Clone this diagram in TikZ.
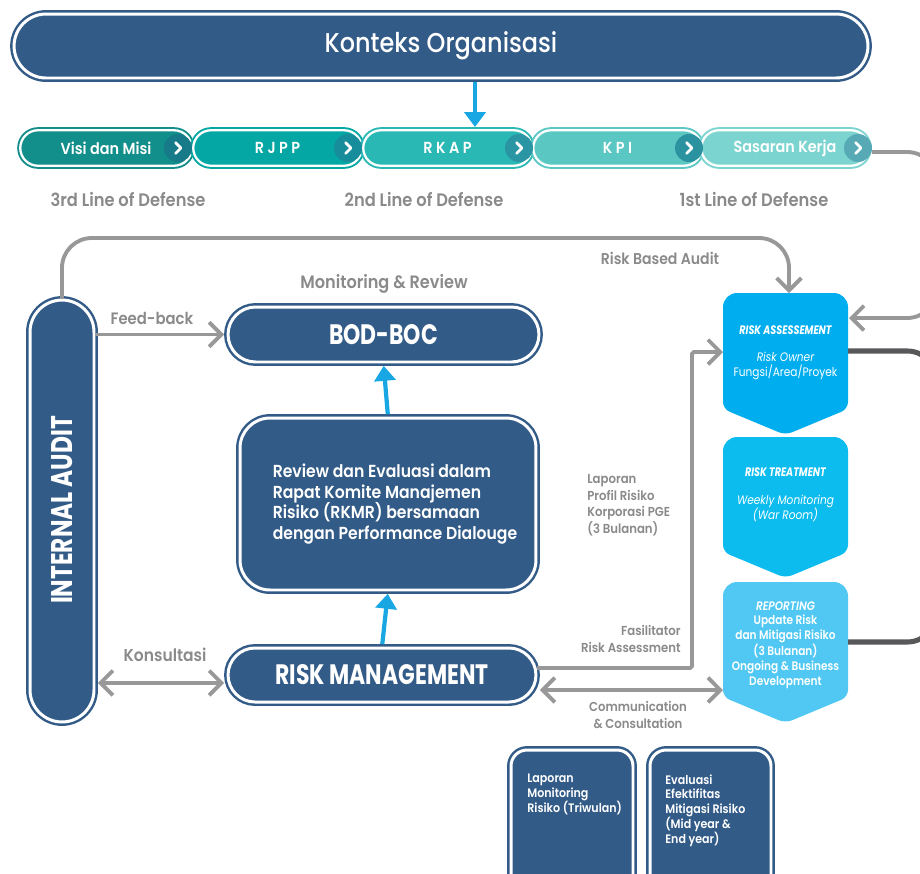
\documentclass[tikz,border=0pt]{standalone}
\usepackage{fontspec}
\setmainfont{Poppins}
\newfontfamily\titlefont{Poppins}[FakeStretch=0.78]
\newfontfamily\narrowfont{Poppins}[FakeStretch=0.86]
\newfontfamily\narrowmed{Poppins Medium}[FakeStretch=0.88]
\newfontfamily\narrowsemi{Poppins SemiBold}[FakeStretch=0.9]
\newfontfamily\repsemi{Poppins SemiBold}[FakeStretch=0.86]
\usetikzlibrary{arrows.meta,calc}
\definecolor{dblue}{HTML}{335B87}
\definecolor{greyline}{HTML}{989898}
\definecolor{greytext}{HTML}{8A8A8A}
\definecolor{darkline}{HTML}{58585A}
\definecolor{barrow}{HTML}{18A7E3}
\definecolor{pA}{HTML}{128E8B}
\definecolor{pB}{HTML}{04A7A3}
\definecolor{pC}{HTML}{2AB8B4}
\definecolor{pD}{HTML}{5AC7C3}
\definecolor{pE}{HTML}{7CD4D0}
\definecolor{cA}{HTML}{177A88}
\definecolor{cB}{HTML}{178C9A}
\definecolor{cC}{HTML}{2A95A3}
\definecolor{cD}{HTML}{2B93A0}
\definecolor{cE}{HTML}{58A9B6}
\definecolor{raC}{HTML}{00AEEF}
\definecolor{rtC}{HTML}{0CBCEF}
\definecolor{repC}{HTML}{50C8F3}
\tikzset{
  dbox/.style={fill=dblue, draw=dblue, double=white, double distance=1.7pt, line width=1.4pt, text=white, inner sep=0pt},
  chainpill/.style={double=white, double distance=1.3pt, line width=1.1pt, minimum width=3.37cm, minimum height=0.71cm, rounded corners=0.355cm, text=white, font=\narrowsemi\fontsize{9.1}{10}\selectfont, inner sep=0pt},
  chevcirc/.style={circle, minimum size=0.56cm, inner sep=0pt},
  chevline/.style={draw=white, line width=1.6pt, line cap=round, line join=round},
  garrow/.style={draw=greyline, line width=2.2pt, -{Straight Barb[length=7pt,width=14pt]}},
  gdarrow/.style={draw=greyline, line width=2.2pt, {Straight Barb[length=7pt,width=14pt]}-{Straight Barb[length=7pt,width=14pt]}},
  dkline/.style={draw=darkline, line width=2.9pt},
  bluearrow/.style={draw=barrow, line width=2.4pt, -{Triangle[length=8.5pt,width=12pt]}, shorten <=1.5pt, shorten >=1.5pt},
  glabel/.style={text=greytext, font=\narrowsemi\fontsize{9.8}{11}\selectfont, inner sep=0pt},
  gsmall/.style={text=greytext, font=\narrowsemi\fontsize{7.4}{9.4}\selectfont, inner sep=0pt},
  wtext/.style={text=white, inner sep=0pt},
}
\begin{document}
\begin{tikzpicture}[x=0.02cm, y=-0.02cm]
\useasboundingbox (0,0) rectangle (920,873);

% ---- top context ----
\node[dbox, rounded corners=0.64cm, minimum width=17.08cm, minimum height=1.28cm,
      font=\narrowmed\fontsize{15.5}{18}\selectfont] (konteks) at (441,46) {Konteks Organisasi};

% ---- chain ----
\node[chainpill, draw=pA, fill=pA, minimum width=3.43cm] (visi) at (106,148) {Visi dan Misi};
\node[chainpill, draw=pB, fill=pB] (rjpp) at (277.5,148) {R J P P};
\node[chainpill, draw=pC, fill=pC] (rkap) at (447.5,148) {R K A P};
\node[chainpill, draw=pD, fill=pD] (kpi) at (617.5,148) {K P I};
\node[chainpill, draw=pE, fill=pE, minimum width=3.35cm] (sas) at (785,148) {Sasaran Kerja};
\foreach \n/\x/\c in {chA/178/cA, chB/348/cB, chC/519/cC, chD/689/cD, chE/858/cE}{
  \node[chevcirc, fill=\c] (\n) at (\x,148) {};
  \draw[chevline] ([xshift=-1.3pt,yshift=3pt]\n.center) -- ([xshift=1.7pt]\n.center) -- ([xshift=-1.3pt,yshift=-3pt]\n.center);
}
\coordinate (kt) at (475,127);
\draw[bluearrow, shorten >=0pt] (konteks.south -| kt) -- (kt);

% ---- lines of defense ----
\node[glabel, font=\narrowsemi\fontsize{10.3}{11}\selectfont] (lod3) at (128,199) {3rd Line of Defense};
\node[glabel, font=\narrowsemi\fontsize{10.3}{11}\selectfont] (lod2) at (424,199) {2nd Line of Defense};
\node[glabel, font=\narrowsemi\fontsize{10.3}{11}\selectfont] (lod1) at (754,199) {1st Line of Defense};

% ---- main boxes ----
\node[dbox, rounded corners=0.64cm, minimum width=1.28cm, minimum height=8.44cm] (ia) at (62,511) {};
\node[wtext, rotate=90, font=\titlefont\bfseries\fontsize{17}{18}\selectfont] (iatext) at (62,510) {INTERNAL AUDIT};

\node[dbox, rounded corners=0.55cm, minimum width=6.22cm, minimum height=1.1cm,
      font=\titlefont\bfseries\fontsize{16}{18}\selectfont] (bod) at (383.5,334.5) {BOD-BOC};
\node[glabel, font=\narrowsemi\fontsize{10.2}{11}\selectfont] (monrev) at (384,284) {Monitoring \& Review};

\node[dbox, rounded corners=0.6cm, minimum width=5.92cm, minimum height=3.44cm] (review) at (388,504) {};
\node[wtext, align=left, font=\narrowsemi\fontsize{9.9}{11.9}\selectfont] (revtext) at (395,504)
  {Review dan Evaluasi dalam\\Rapat Komite Manajemen\\Risiko (RKMR) bersamaan\\dengan Performance Dialouge};

\node[dbox, rounded corners=0.54cm, minimum width=6.16cm, minimum height=1.08cm,
      font=\titlefont\bfseries\fontsize{16}{18}\selectfont] (rm) at (382,675) {RISK MANAGEMENT};

\draw[bluearrow] (review.north) -- (bod.south);
\draw[bluearrow] (rm.north) -- (review.south);

% ---- bottom boxes ----
\node[dbox, rounded corners=0.32cm, minimum width=2.44cm, minimum height=3cm] (lap) at (572,825) {};
\node[wtext, anchor=north west, align=left, font=\narrowsemi\fontsize{7}{8.5}\selectfont] (laptext) at (527,774)
  {Laporan\\Monitoring\\Risiko (Triwulan)};
\node[dbox, rounded corners=0.32cm, minimum width=2.42cm, minimum height=3cm] (eva) at (710.5,825) {};
\node[wtext, anchor=north west, align=left, font=\narrowsemi\fontsize{7}{8.5}\selectfont] (evatext) at (665,774)
  {Evaluasi\\Efektifitas\\Mitigasi Risiko\\(Mid year \&\\End year)};

% ---- risk process shapes ----
\fill[raC] (723,350) [rounded corners=8pt] -- (723,293) -- (848,293) -- (848,350) [rounded corners=4pt] -- (848,409) -- (785.5,435) -- (723,409) -- cycle;
\fill[rtC] (723,500) [rounded corners=8pt] -- (723,437) -- (848,437) -- (848,500) [rounded corners=4pt] -- (848,552) -- (785.5,578) -- (723,552) -- cycle;
\fill[repC] (723,640) [rounded corners=8pt] -- (723,582) -- (848,582) -- (848,640) [rounded corners=4pt] -- (848,697) -- (785.5,723) -- (723,697) -- cycle;
\node[minimum width=2.5cm, minimum height=2.84cm, inner sep=0pt] (ra) at (785.5,364) {};
\node[minimum width=2.5cm, minimum height=2.82cm, inner sep=0pt] (rt) at (785.5,507.5) {};
\node[minimum width=2.5cm, minimum height=2.82cm, inner sep=0pt] (rep) at (785.5,652.5) {};

\node[wtext, font=\titlefont\bfseries\itshape\fontsize{7}{8}\selectfont] (ratitle) at (785.5,330) {RISK ASSESSEMENT};
\node[wtext, align=center, font=\narrowfont\fontsize{7}{8.5}\selectfont] (ratext) at (785.5,366) {{\itshape Risk Owner}\\Fungsi/Area/Proyek};
\node[wtext, font=\titlefont\bfseries\itshape\fontsize{7}{8}\selectfont] (rttitle) at (785.5,472) {RISK TREATMENT};
\node[wtext, align=center, font=\narrowfont\itshape\fontsize{7}{8.5}\selectfont] (rttext) at (785.5,508) {Weekly Monitoring\\(War Room)};
\node[wtext, align=center, font=\repsemi\fontsize{7}{8.3}\selectfont] (reptext) at (785.5,645) {{\itshape REPORTING}\\Update Risk\\dan Mitigasi Risiko\\(3 Bulanan)\\Ongoing \& Business\\Development};

% ---- connectors ----
\coordinate (rbtop) at (400,238);
\coordinate (ratip) at (789,293);
\draw[garrow, rounded corners=17pt] (ia.north) |- (rbtop) -| (ratip);
\node[glabel, font=\narrowsemi\fontsize{8.9}{10}\selectfont] (rba) at (660,258) {Risk Based Audit};

\draw[garrow, shorten >=1.5pt] (ia.east |- bod.west) -- (bod.west);
\node[glabel, font=\narrowsemi\fontsize{9.4}{11}\selectfont] (fb) at (152,318) {Feed-back};

\coordinate (kons) at ([yshift=-4.5pt]rm.west);
\draw[gdarrow, shorten >=1.5pt, shorten <=1.5pt] (ia.east |- kons) -- (kons);
\node[glabel] (konsl) at (165,655) {Konsultasi};

\coordinate (fas0) at ([yshift=4pt]rm.east);
\coordinate (fasx) at (692,668);
\coordinate (ain) at (723,352);
\draw[garrow, rounded corners=1pt] (fas0) -- (fasx) |- (ain);
\node[gsmall, anchor=west, align=left] (lapprof) at (587,505) {Laporan\\Profil Risiko\\Korporasi PGE\\(3 Bulanan)};
\node[gsmall, anchor=east, align=right] (fasl) at (681,639) {Fasilitator\\Risk Assessment};

\coordinate (com0) at ([yshift=-8.5pt]rm.east);
\coordinate (com1) at (723,690);
\draw[gdarrow, shorten <=1.5pt] (com0) -- (com1);
\node[gsmall, align=center] (coml) at (638,715) {Communication\\\& Consultation};

\coordinate (sasout) at (872,152);
\coordinate (rx) at (937,240);
\coordinate (rain) at (849,318);
\draw[garrow, rounded corners=17pt] (sasout) -| (rx) |- (rain);

\coordinate (raE) at (848,351);
\coordinate (dk) at (937,500);
\coordinate (repE) at (848,642);
\draw[dkline, rounded corners=17pt] (raE) -| (dk) |- (repE);
\end{tikzpicture}
\end{document}
